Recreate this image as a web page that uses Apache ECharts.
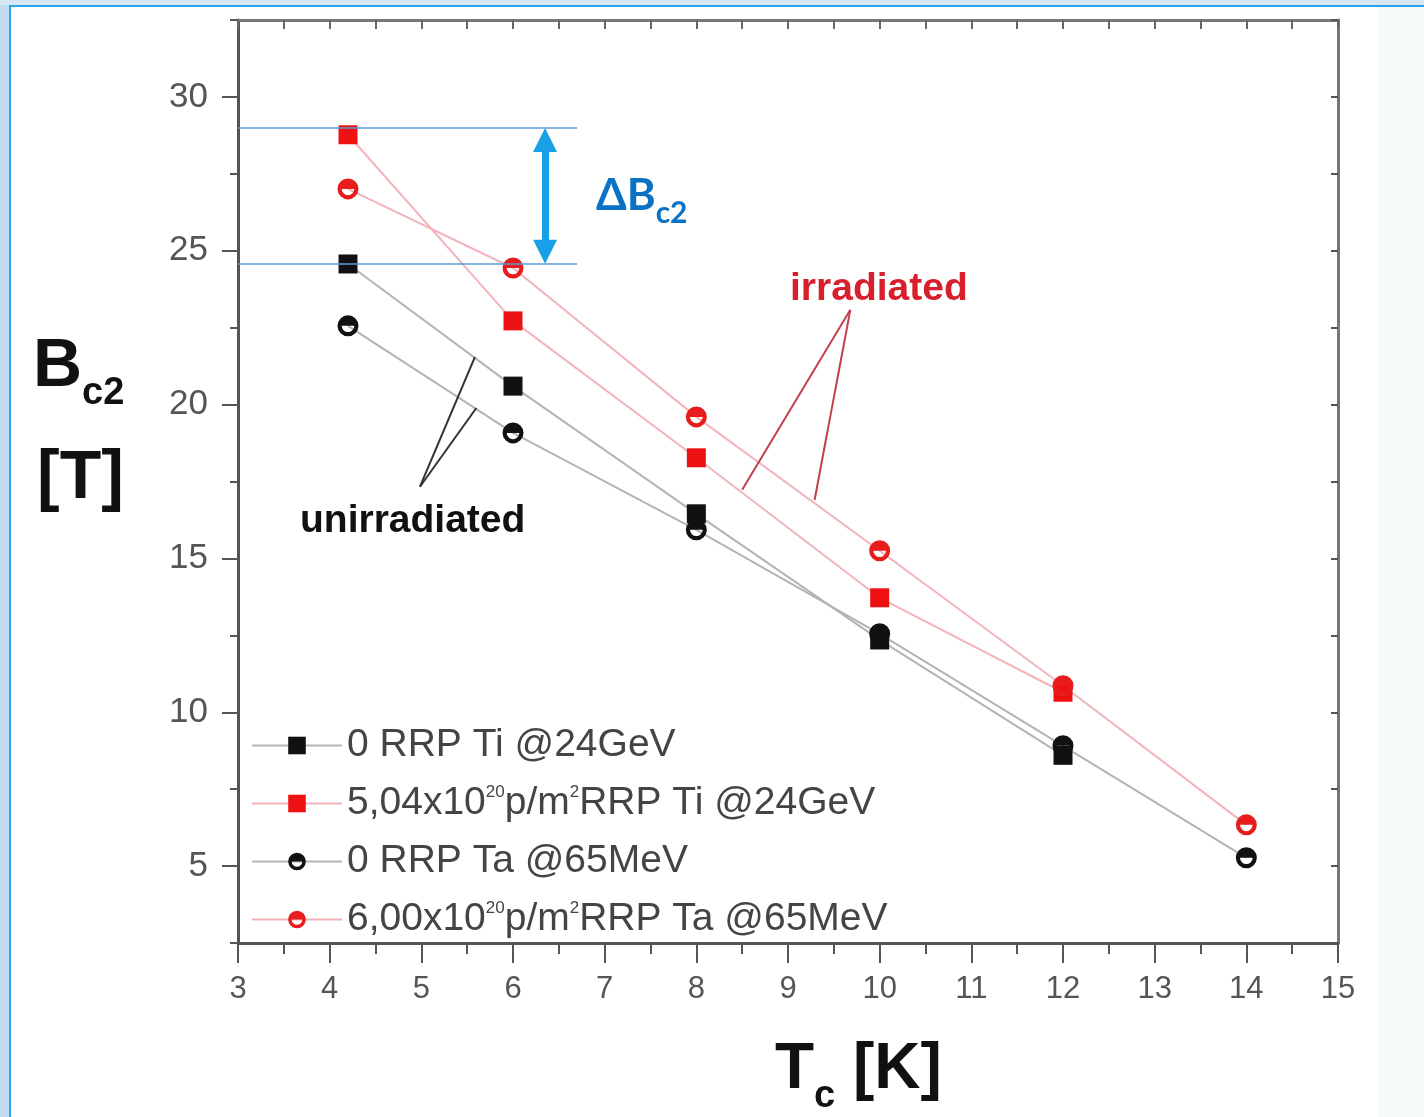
<!DOCTYPE html>
<html>
<head>
<meta charset="utf-8">
<script src="https://cdn.jsdelivr.net/npm/echarts@6/dist/echarts.min.js"></script>
<style>
html,body{margin:0;padding:0;background:#ffffff;}
#chart{width:1424px;height:1117px;}
</style>
</head>
<body>
<div id="chart"></div>
<script>
// ---- data ----
const temps = [4.2, 6, 8, 10, 12, 14];
const tiUnirr = [24.57, 20.6, 16.45, 12.35, 8.6, null];
const tiIrr = [28.77, 22.72, 18.27, 13.72, 10.65, null];
const taUnirr = [22.56, 19.08, 15.93, 12.55, 8.91, 5.27];
const taIrr = [27.01, 24.44, 19.6, 15.25, 10.86, 6.34];
const seriesNames = ['0 RRP Ti @24GeV', '5,04x10^20p/m^2RRP Ti @24GeV', '0 RRP Ta @65MeV', '6,00x10^20p/m^2RRP Ta @65MeV'];
const yTickLabels = [5, 10, 15, 20, 25, 30];
// annotation values (data space)
const deltaTop = 29.0, deltaBottom = 24.57, deltaX = 6.35;

const pairs = (xs, ys) => xs.map((x, i) => [x, ys[i]]);
const halfCircle = 'path://M0,10A10,10 0 1,1 20,10A10,10 0 1,1 0,10ZM16,10L4,10A6,6 0 0,0 16,10Z';
const FONT = '"Liberation Sans", Arial, sans-serif';

const chart = echarts.init(document.getElementById('chart'), null, {renderer: 'canvas'});

function mkSeries(name, ys, symbol, size, color, lineColor, extra) {
  return Object.assign({
    name: name, type: 'line', data: pairs(temps, ys),
    symbol: symbol, symbolSize: size, connectNulls: false,
    itemStyle: {color: color},
    lineStyle: {color: lineColor, width: 2},
    emphasis: {disabled: true},
    animation: false, z: 3
  }, extra || {});
}

const lineSeg = (a, b, style, ea, eb) => [Object.assign({coord: a, lineStyle: style}, ea || {}), Object.assign({coord: b}, eb || {})];
const blueThin = {color: '#5b9bd5', width: 1.6, type: 'solid'};
const arrowStyle = {color: '#17a0e6', width: 7, type: 'solid'};
const darkPtr = {color: '#333333', width: 2, type: 'solid'};
const redPtr = {color: '#c2404e', width: 2, type: 'solid'};

const option = {
  backgroundColor: '#ffffff',
  animation: false,
  grid: {left: 238, right: 86, top: 20, bottom: 174, containLabel: false},
  xAxis: [
    {
      type: 'value', min: 3, max: 15, interval: 1, position: 'bottom',
      axisLine: {show: true, onZero: false, lineStyle: {color: '#555', width: 3}},
      axisTick: {show: true, inside: false, length: 20, lineStyle: {color: '#555', width: 2}},
      minorTick: {show: true, splitNumber: 2, length: 11, lineStyle: {color: '#555', width: 2}},
      axisLabel: {color: '#555', fontSize: 31, fontFamily: FONT, margin: 31},
      splitLine: {show: false}
    },
    {
      type: 'value', min: 3, max: 15, interval: 1, position: 'top',
      axisLine: {show: true, onZero: false, lineStyle: {color: '#777', width: 3}},
      axisTick: {show: true, inside: true, length: 9, lineStyle: {color: '#666', width: 2}},
      minorTick: {show: true, splitNumber: 2, length: 9, lineStyle: {color: '#666', width: 2}},
      axisLabel: {show: false}, splitLine: {show: false}
    }
  ],
  yAxis: [
    {
      type: 'value', min: 2.5, max: 32.5, position: 'left',
      axisLine: {show: true, onZero: false, lineStyle: {color: '#555', width: 3}},
      axisTick: {show: true, inside: false, length: 16, customValues: yTickLabels, lineStyle: {color: '#555', width: 2}},
      axisLabel: {color: '#555', fontSize: 35, fontFamily: FONT, margin: 30, customValues: yTickLabels},
      splitLine: {show: false}
    },
    {
      type: 'value', min: 2.5, max: 32.5, interval: 2.5, position: 'left',
      axisLine: {show: false},
      axisTick: {show: true, inside: false, length: 8, lineStyle: {color: '#555', width: 2}},
      axisLabel: {show: false}, splitLine: {show: false}
    },
    {
      type: 'value', min: 2.5, max: 32.5, interval: 2.5, position: 'right',
      axisLine: {show: true, onZero: false, lineStyle: {color: '#777', width: 3}},
      axisTick: {show: true, inside: true, length: 7, lineStyle: {color: '#555', width: 2}},
      axisLabel: {show: false}, splitLine: {show: false}
    }
  ],
  legend: {
    orient: 'vertical', left: 246, top: 721,
    itemWidth: 90, itemHeight: 22, itemGap: 19,
    selectedMode: false,
    data: seriesNames,
    formatter: function (name) {
      return name.replace('10^20', '10{sup|20}').replace('m^2', 'm{sup|2}');
    },
    textStyle: {
      color: '#444', fontSize: 39, fontFamily: FONT,
      rich: {sup: {fontSize: 17, color: '#444', fontFamily: FONT, verticalAlign: 'top'}}
    }
  },
  series: [
    mkSeries(seriesNames[0], tiUnirr, 'rect', 19, '#111111', '#b4b4b4', {
      markLine: {
        silent: true, animation: false, symbol: 'none', label: {show: false},
        emphasis: {disabled: true},
        data: [
          lineSeg([3, deltaTop], [6.7, deltaTop], blueThin),
          lineSeg([3, deltaBottom], [6.7, deltaBottom], blueThin),
          lineSeg([deltaX, deltaTop - 0.4], [deltaX, deltaBottom + 0.4], arrowStyle,
                  {symbol: 'triangle', symbolSize: [24, 24]}, {symbol: 'triangle', symbolSize: [24, 24]}),
          lineSeg([5.585, 21.55], [4.985, 17.33], darkPtr),
          lineSeg([5.6, 19.89], [4.985, 17.33], darkPtr),
          lineSeg([9.68, 23.08], [8.5, 17.23], redPtr),
          lineSeg([9.68, 23.08], [9.29, 16.9], redPtr)
        ]
      }
    }),
    mkSeries(seriesNames[1], tiIrr, 'rect', 19, '#ee1111', '#f3b3bb'),
    mkSeries(seriesNames[2], taUnirr, halfCircle, 21, '#111111', '#b4b4b4'),
    mkSeries(seriesNames[3], taIrr, halfCircle, 21, '#e81c1c', '#f3b3bb')
  ],
  graphic: [
    // page frame
    {type: 'rect', z: -10, silent: true, shape: {x: 0, y: 0, width: 9, height: 1117}, style: {fill: '#c3daf0'}},
    {type: 'rect', z: -10, silent: true, shape: {x: 0, y: 0, width: 1424, height: 5}, style: {fill: '#d5e6f5'}},
    {type: 'rect', z: -10, silent: true, shape: {x: 1378, y: 6, width: 46, height: 1111}, style: {fill: '#f7fbfc'}},
    {type: 'rect', z: -9, silent: true, shape: {x: 9, y: 5, width: 1415, height: 2}, style: {fill: '#2aa2ef'}},
    {type: 'rect', z: -9, silent: true, shape: {x: 9, y: 5, width: 2, height: 1112}, style: {fill: '#2aa2ef'}},
    // y title
    {type: 'text', left: 33, top: 333, silent: true, style: {
      text: '{b|B}{s|c2}', rich: {
        b: {fontSize: 68, fontWeight: 'bold', fontFamily: FONT, fill: '#111'},
        s: {fontSize: 38, fontWeight: 'bold', fontFamily: FONT, fill: '#111', verticalAlign: 'bottom', padding: [0, 0, -12, 0]}
      }}},
    {type: 'text', left: 37, top: 445, silent: true, style: {
      text: '[T]', fontSize: 68, fontWeight: 'bold', fontFamily: FONT, fill: '#111'}},
    // x title
    {type: 'text', left: 775, top: 1038, silent: true, style: {
      text: '{b|T}{s|c}{b| [K]}', rich: {
        b: {fontSize: 64, fontWeight: 'bold', fontFamily: FONT, fill: '#111'},
        s: {fontSize: 38, fontWeight: 'bold', fontFamily: FONT, fill: '#111', verticalAlign: 'bottom', padding: [0, 0, -14, 0]}
      }}},
    // delta Bc2 label
    {type: 'text', left: 596, top: 174, silent: true, style: {
      text: '{b|ΔB}{s|c2}', rich: {
        b: {fontSize: 44, fontWeight: 'bold', fontFamily: 'Lato, "Open Sans", sans-serif', fill: '#0a72c4'},
        s: {fontSize: 30, fontWeight: 'bold', fontFamily: 'Lato, "Open Sans", sans-serif', fill: '#0a72c4', verticalAlign: 'bottom', padding: [0, 0, -10, 0]}
      }}},
    // irradiated
    {type: 'text', left: 790, top: 270, silent: true, style: {
      text: 'irradiated', fontSize: 39, fontWeight: 'bold', fontFamily: FONT, fill: '#d8202c'}},
    // unirradiated
    {type: 'text', left: 300, top: 502, silent: true, style: {
      text: 'unirradiated', fontSize: 39, fontWeight: 'bold', fontFamily: FONT, fill: '#111'}}
  ]
};
chart.setOption(option);
</script>
</body>
</html>
